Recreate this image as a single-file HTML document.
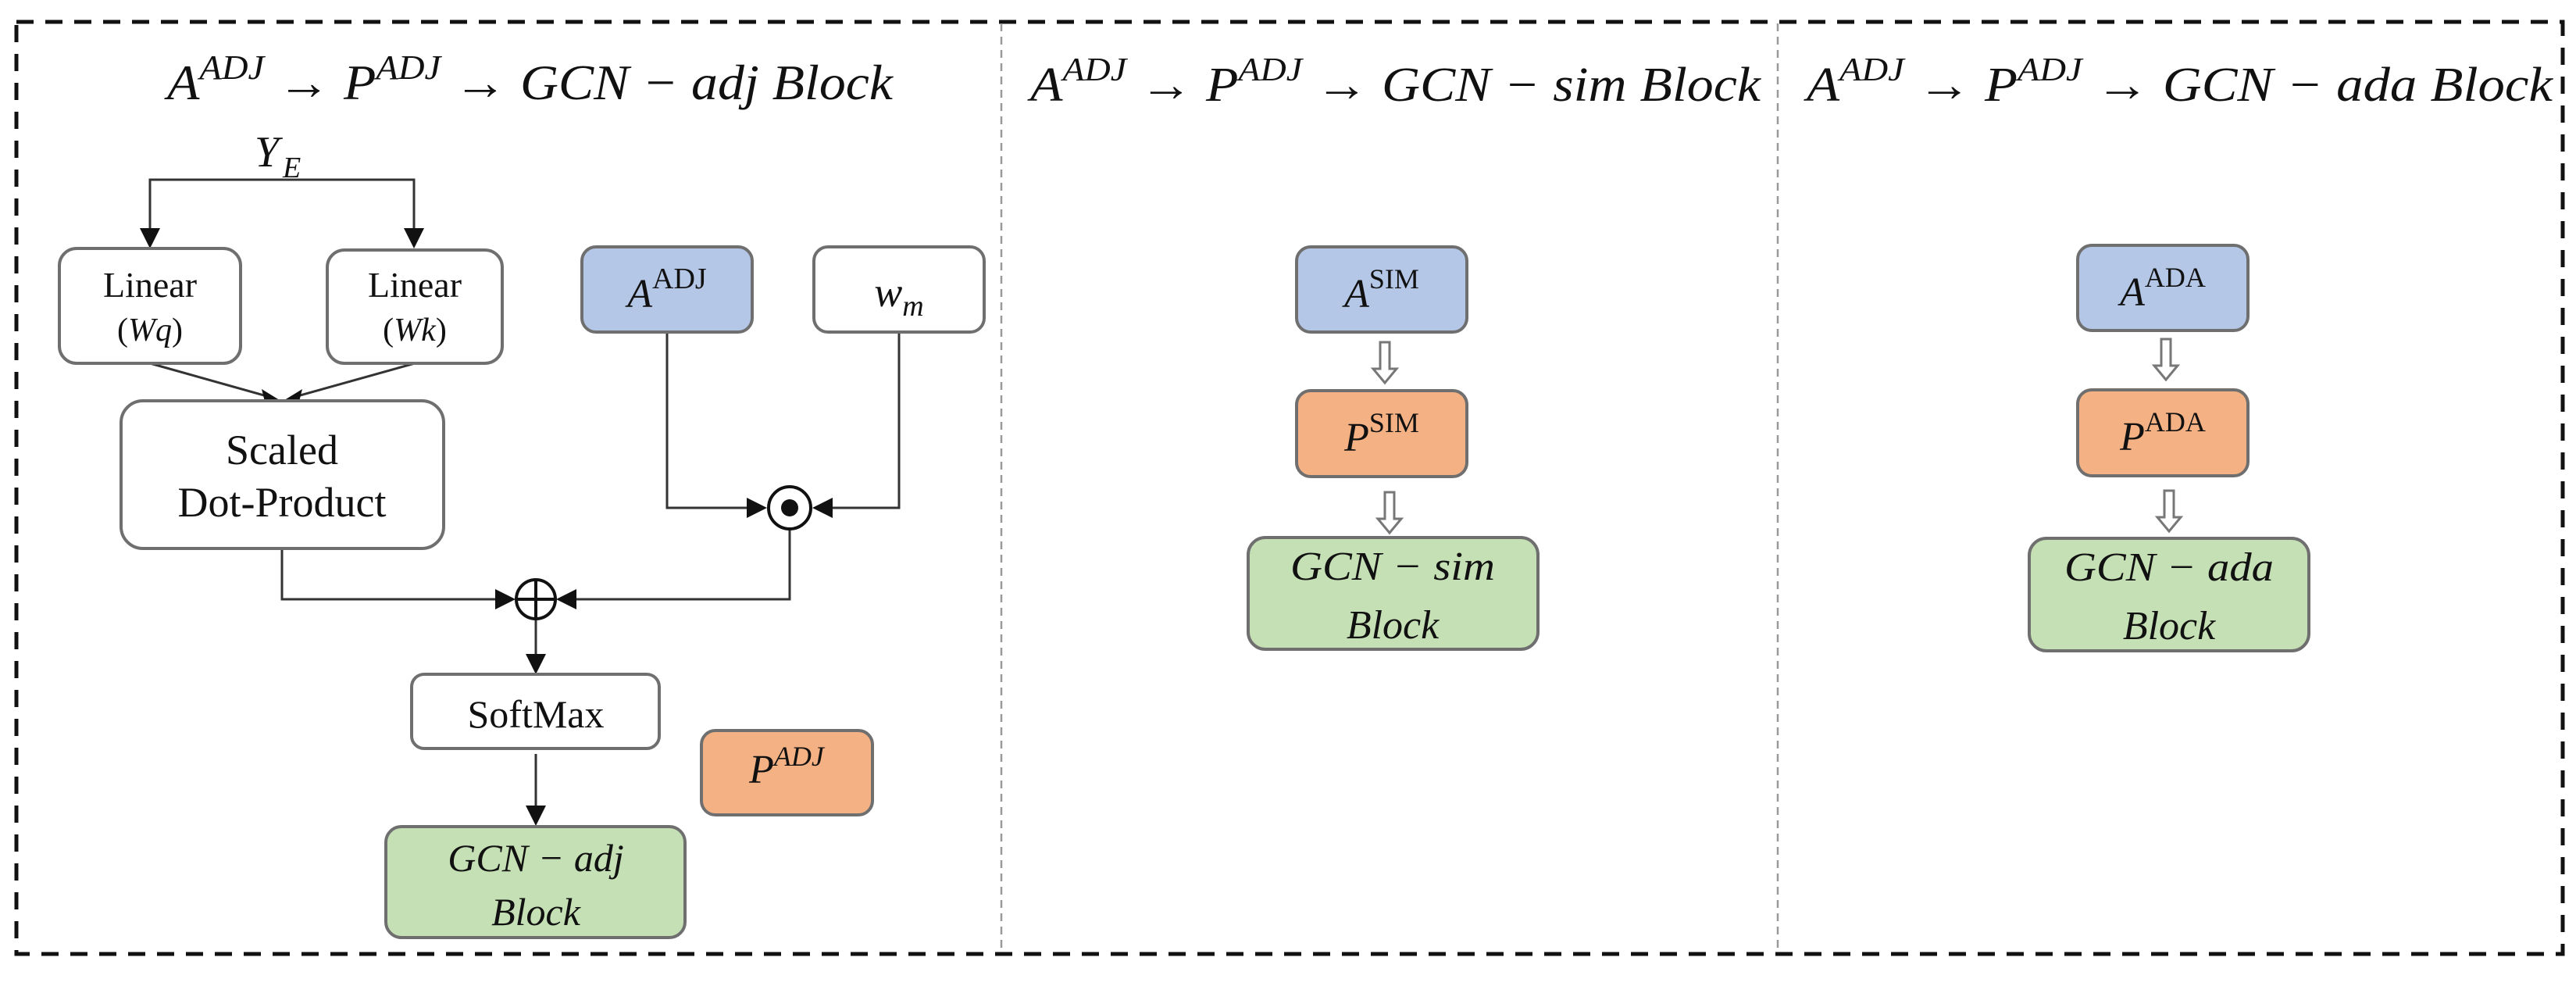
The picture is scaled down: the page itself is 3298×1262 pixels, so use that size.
<!DOCTYPE html>
<html><head><meta charset="utf-8"><style>
html,body{margin:0;padding:0;background:#fff}
svg{display:block}
text{font-family:"Liberation Serif",serif;fill:#111}
.it{font-style:italic}
</style></head><body>
<svg width="3298" height="1262" viewBox="0 0 3298 1262" xmlns="http://www.w3.org/2000/svg">
<rect x="21" y="28" width="3260" height="1193" fill="none" stroke="#111" stroke-width="5" stroke-dasharray="22,15"/>
<line x1="1282" y1="30" x2="1282" y2="1219" stroke="#999" stroke-width="2.5" stroke-dasharray="10,7"/>
<line x1="2276" y1="30" x2="2276" y2="1219" stroke="#999" stroke-width="2.5" stroke-dasharray="10,7"/>

<text class="it" x="214" y="127" font-size="64" textLength="929" lengthAdjust="spacingAndGlyphs">A<tspan font-size="44" dy="-26">ADJ</tspan><tspan dy="26"> → P</tspan><tspan font-size="44" dy="-26">ADJ</tspan><tspan dy="26"> → GCN − adj Block</tspan></text>
<text class="it" x="1319" y="129" font-size="62" textLength="935" lengthAdjust="spacingAndGlyphs">A<tspan font-size="42" dy="-26">ADJ</tspan><tspan dy="26"> → P</tspan><tspan font-size="42" dy="-26">ADJ</tspan><tspan dy="26"> → GCN − sim Block</tspan></text>
<text class="it" x="2313" y="129" font-size="62" textLength="955" lengthAdjust="spacingAndGlyphs">A<tspan font-size="42" dy="-26">ADJ</tspan><tspan dy="26"> → P</tspan><tspan font-size="42" dy="-26">ADJ</tspan><tspan dy="26"> → GCN − ada  Block</tspan></text>

<g stroke="#333" stroke-width="3" fill="none">
<polyline points="192,292 192,230 530,230 530,292"/>
<line x1="192" y1="465" x2="345" y2="508"/>
<line x1="531" y1="465" x2="377" y2="508"/>
<polyline points="854,425 854,650 958,650"/>
<polyline points="1151,425 1151,650 1064,650"/>
<polyline points="1011,678 1011,767 736,767"/>
<polyline points="361,702 361,767 636,767"/>
<line x1="686" y1="793" x2="686" y2="840"/>
<line x1="686" y1="965" x2="686" y2="1032"/>
</g>
<g fill="#111">
<polygon points="179,292 205,292 192,318"/>
<polygon points="517,292 543,292 530,318"/>
<polygon points="335,498 341,522 361,514"/>
<polygon points="387,498 381,522 361,514"/>
<polygon points="956,637 956,663 982,650"/>
<polygon points="1066,637 1066,663 1040,650"/>
<polygon points="634,754 634,780 660,767"/>
<polygon points="738,754 738,780 712,767"/>
<polygon points="673,837 699,837 686,863"/>
<polygon points="673,1031 699,1031 686,1057"/>
</g>
<circle cx="1011" cy="650" r="27" fill="#fff" stroke="#111" stroke-width="4"/>
<circle cx="1011" cy="650" r="11" fill="#111"/>
<circle cx="686" cy="767" r="25" fill="#fff" stroke="#111" stroke-width="4"/>
<line x1="661" y1="767" x2="711" y2="767" stroke="#111" stroke-width="4"/>
<line x1="686" y1="742" x2="686" y2="792" stroke="#111" stroke-width="4"/>

<g stroke="#6f6f6f" stroke-width="4">
<rect x="76" y="318" width="232" height="147" rx="22" fill="#fff"/>
<rect x="419" y="320" width="224" height="145" rx="22" fill="#fff"/>
<rect x="155" y="513" width="413" height="189" rx="28" fill="#fff"/>
<rect x="745" y="316" width="218" height="109" rx="18" fill="#b4c7e7"/>
<rect x="1042" y="316" width="218" height="109" rx="18" fill="#fff"/>
<rect x="527" y="863" width="317" height="95" rx="16" fill="#fff"/>
<rect x="898" y="935" width="219" height="108" rx="18" fill="#f4b183"/>
<rect x="494" y="1058" width="383" height="142" rx="20" fill="#c5e0b4"/>

<rect x="1660" y="316" width="218" height="109" rx="18" fill="#b4c7e7"/>
<rect x="1660" y="500" width="218" height="110" rx="18" fill="#f4b183"/>
<rect x="1598" y="688" width="371" height="143" rx="22" fill="#c5e0b4"/>
<rect x="2660" y="314" width="218" height="109" rx="18" fill="#b4c7e7"/>
<rect x="2660" y="499" width="218" height="110" rx="18" fill="#f4b183"/>
<rect x="2598" y="689" width="358" height="144" rx="22" fill="#c5e0b4"/>
</g>

<g fill="#fff" stroke="#777" stroke-width="3">
<polygon points="1767,438 1779,438 1779,472 1788,472 1773,490 1758,472 1767,472"/>
<polygon points="1773,630 1785,630 1785,664 1794,664 1779,682 1764,664 1773,664"/>
<polygon points="2767,434 2779,434 2779,468 2788,468 2773,486 2758,468 2767,468"/>
<polygon points="2771,628 2783,628 2783,662 2792,662 2777,680 2762,662 2771,662"/>
</g>

<text class="it" x="326" y="213" font-size="56">Y</text><text class="it" x="362" y="227" font-size="38">E</text>
<text x="192" y="380" font-size="46" text-anchor="middle">Linear</text>
<text x="192" y="436" font-size="42" text-anchor="middle">(<tspan class="it">Wq</tspan>)</text>
<text x="531" y="380" font-size="46" text-anchor="middle">Linear</text>
<text x="531" y="436" font-size="42" text-anchor="middle">(<tspan class="it">Wk</tspan>)</text>
<text x="361" y="594" font-size="54" text-anchor="middle">Scaled</text>
<text x="361" y="661" font-size="54" text-anchor="middle">Dot-Product</text>
<text x="854" y="393" font-size="52" text-anchor="middle"><tspan class="it">A</tspan><tspan font-size="38" dy="-24">ADJ</tspan></text>
<text x="1151" y="392" font-size="54" text-anchor="middle" class="it">w<tspan font-size="38" dy="12">m</tspan></text>
<text x="686" y="931" font-size="50" text-anchor="middle">SoftMax</text>
<text class="it" x="1007" y="1002" font-size="52" text-anchor="middle">P<tspan font-size="36" dy="-22">ADJ</tspan></text>
<text class="it" x="686" y="1115" font-size="50" text-anchor="middle">GCN − adj</text>
<text class="it" x="686" y="1184" font-size="50" text-anchor="middle">Block</text>

<text x="1769" y="393" font-size="52" text-anchor="middle"><tspan class="it">A</tspan><tspan font-size="36" dy="-24">SIM</tspan></text>
<text x="1769" y="577" font-size="52" text-anchor="middle"><tspan class="it">P</tspan><tspan font-size="36" dy="-24">SIM</tspan></text>
<text class="it" x="1783" y="742" font-size="52" text-anchor="middle" textLength="262" lengthAdjust="spacingAndGlyphs">GCN − sim</text>
<text class="it" x="1783" y="817" font-size="52" text-anchor="middle">Block</text>
<text x="2769" y="391" font-size="52" text-anchor="middle"><tspan class="it">A</tspan><tspan font-size="36" dy="-24">ADA</tspan></text>
<text x="2769" y="576" font-size="52" text-anchor="middle"><tspan class="it">P</tspan><tspan font-size="36" dy="-24">ADA</tspan></text>
<text class="it" x="2777" y="743" font-size="52" text-anchor="middle" textLength="268" lengthAdjust="spacingAndGlyphs">GCN − ada</text>
<text class="it" x="2777" y="818" font-size="52" text-anchor="middle">Block</text>
</svg>
</body></html>
